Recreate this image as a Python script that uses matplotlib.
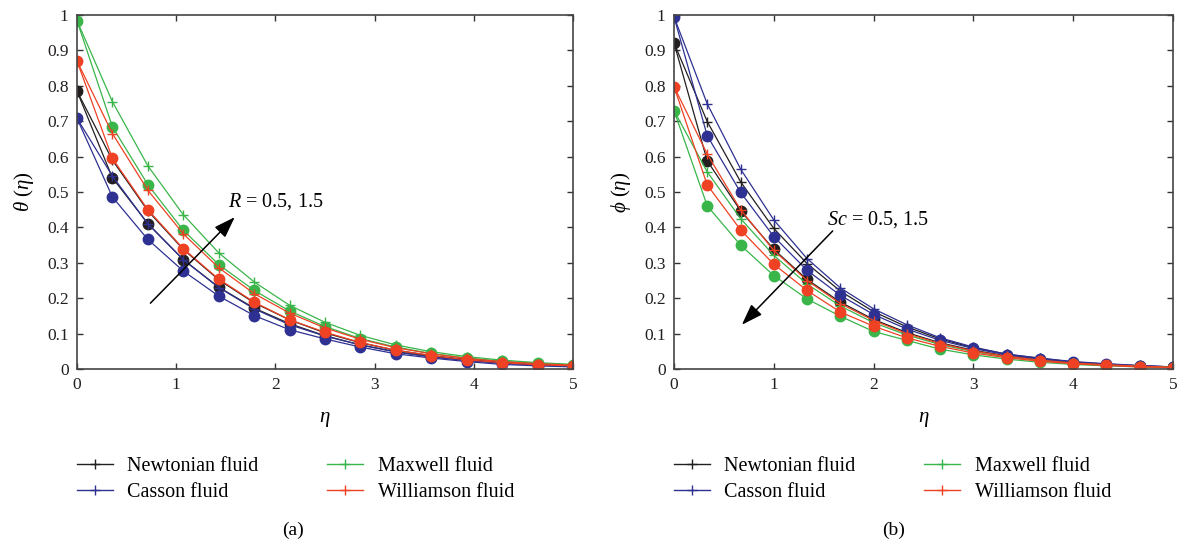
import matplotlib
matplotlib.use("Agg")
import matplotlib.pyplot as plt
from matplotlib.lines import Line2D

# ---------------- data ----------------
eta_a = [0, 0.357, 0.714, 1.071, 1.429, 1.786, 2.143, 2.5, 2.857, 3.214, 3.571, 3.929, 4.286, 4.643, 5.0]
# theta(eta), R = 0.5 (dots) and R = 1.5 (plus)
newt_a_lo = [0.785, 0.540, 0.411, 0.309, 0.231, 0.172, 0.128, 0.094, 0.068, 0.049, 0.035, 0.025, 0.017, 0.012, 0.008]
newt_a_hi = [0.785, 0.590, 0.447, 0.338, 0.252, 0.187, 0.139, 0.102, 0.074, 0.053, 0.038, 0.027, 0.019, 0.013, 0.009]
cass_a_lo = [0.708, 0.486, 0.366, 0.277, 0.206, 0.151, 0.111, 0.085, 0.062, 0.043, 0.031, 0.021, 0.013, 0.009, 0.006]
cass_a_hi = [0.708, 0.545, 0.410, 0.309, 0.230, 0.170, 0.125, 0.093, 0.068, 0.048, 0.034, 0.024, 0.016, 0.011, 0.007]
maxw_a_lo = [0.984, 0.684, 0.521, 0.392, 0.295, 0.222, 0.164, 0.120, 0.086, 0.062, 0.044, 0.031, 0.022, 0.016, 0.012]
maxw_a_hi = [0.984, 0.755, 0.574, 0.436, 0.328, 0.246, 0.180, 0.132, 0.095, 0.068, 0.049, 0.035, 0.025, 0.018, 0.013]
will_a_lo = [0.870, 0.595, 0.450, 0.340, 0.254, 0.189, 0.139, 0.104, 0.075, 0.053, 0.038, 0.026, 0.018, 0.012, 0.009]
will_a_hi = [0.870, 0.665, 0.505, 0.382, 0.286, 0.213, 0.158, 0.116, 0.084, 0.060, 0.043, 0.030, 0.021, 0.015, 0.011]

eta_b = [0, 0.333, 0.667, 1.0, 1.333, 1.667, 2.0, 2.333, 2.667, 3.0, 3.333, 3.667, 4.0, 4.333, 4.667, 5.0]
# phi(eta), Sc = 0.5 (plus) and Sc = 1.5 (dots)
newt_b_lo = [0.921, 0.588, 0.447, 0.338, 0.253, 0.189, 0.140, 0.103, 0.074, 0.053, 0.037, 0.026, 0.018, 0.012, 0.008, 0.005]
newt_b_hi = [0.921, 0.699, 0.529, 0.397, 0.298, 0.220, 0.162, 0.119, 0.085, 0.060, 0.042, 0.030, 0.020, 0.014, 0.009, 0.006]
cass_b_lo = [0.995, 0.659, 0.499, 0.374, 0.279, 0.208, 0.154, 0.113, 0.081, 0.058, 0.040, 0.028, 0.019, 0.013, 0.009, 0.006]
cass_b_hi = [0.995, 0.749, 0.565, 0.421, 0.312, 0.229, 0.170, 0.125, 0.088, 0.062, 0.042, 0.031, 0.021, 0.015, 0.010, 0.006]
maxw_b_lo = [0.730, 0.461, 0.350, 0.264, 0.198, 0.149, 0.106, 0.081, 0.056, 0.040, 0.028, 0.019, 0.013, 0.009, 0.006, 0.004]
maxw_b_hi = [0.730, 0.557, 0.425, 0.321, 0.240, 0.178, 0.131, 0.096, 0.069, 0.049, 0.034, 0.024, 0.016, 0.011, 0.007, 0.005]
will_b_lo = [0.798, 0.520, 0.393, 0.296, 0.222, 0.161, 0.121, 0.088, 0.064, 0.045, 0.032, 0.022, 0.015, 0.010, 0.006, 0.004]
will_b_hi = [0.798, 0.607, 0.450, 0.335, 0.250, 0.185, 0.137, 0.100, 0.072, 0.051, 0.036, 0.025, 0.017, 0.012, 0.008, 0.005]

fluids = ["Newtonian fluid", "Casson fluid", "Maxwell fluid", "Williamson fluid"]
colors = ["#231f20", "#2e3192", "#39b54a", "#ef4123"]
yticks = [0, 0.1, 0.2, 0.3, 0.4, 0.5, 0.6, 0.7, 0.8, 0.9, 1]
ytick_labels = ["0", "0.1", "0.2", "0.3", "0.4", "0.5", "0.6", "0.7", "0.8", "0.9", "1"]
xticks = [0, 1, 2, 3, 4, 5]

plt.rcParams['font.family'] = ['Liberation Serif', 'DejaVu Serif']
plt.rcParams['mathtext.fontset'] = 'custom'
plt.rcParams['mathtext.it'] = 'Liberation Serif:italic'
plt.rcParams['mathtext.rm'] = 'Liberation Serif'

fig = plt.figure(figsize=(11.81, 5.43), dpi=100)
axA = fig.add_axes([0.0652, 0.3204, 0.4200, 0.6520])
axB = fig.add_axes([0.5707, 0.3204, 0.4225, 0.6520])

series_a = [(newt_a_lo, newt_a_hi), (cass_a_lo, cass_a_hi), (maxw_a_lo, maxw_a_hi), (will_a_lo, will_a_hi)]
series_b = [(newt_b_lo, newt_b_hi), (cass_b_lo, cass_b_hi), (maxw_b_lo, maxw_b_hi), (will_b_lo, will_b_hi)]

def draw(ax, x, series):
    for (lo, hi), c in zip(series, colors):
        ax.plot(x, hi, color=c, lw=0.9, marker='+', ms=7, mew=1.0)
        ax.plot(x, lo, color=c, lw=0.9, marker='o', ms=7.5, mec=c, mfc=c)
    ax.set_xlim(0, 5)
    ax.set_ylim(0, 1)
    ax.set_xticks(xticks)
    ax.set_xticklabels([str(t) for t in xticks])
    ax.set_yticks(yticks)
    ax.set_yticklabels(ytick_labels)
    ax.tick_params(direction='in', length=4, width=1, top=True, right=True,
                   labelsize=12.5, colors='#333333', labelcolor='#231f20', pad=6)
    for s in ax.spines.values():
        s.set_color('#444444')
        s.set_linewidth(1.2)
    ax.set_xlabel(r'$\eta$', fontsize=15, labelpad=12)
    handles = [Line2D([], [], color=c, lw=1.0, marker='+', ms=7, mew=1.0) for c in colors]
    ax.legend(handles, fluids, ncol=2, frameon=False, loc='upper left',
              bbox_to_anchor=(-0.02, -0.22), fontsize=14.5, handlelength=1.8,
              handletextpad=0.7, columnspacing=3.4, labelspacing=0.35, borderpad=0)

draw(axA, eta_a, series_a)
draw(axB, eta_b, series_b)

axA.set_ylabel(r'$\theta$ $(\eta)$', fontsize=15, labelpad=8)
axB.set_ylabel(r'$\phi$ $(\eta)$', fontsize=15, labelpad=8)

arrow_kw = dict(arrowstyle='-|>,head_length=1.3,head_width=0.45', color='black', lw=1.1,
                shrinkA=0, shrinkB=0)
axA.annotate('', xy=(1.59, 0.429), xytext=(0.74, 0.186), arrowprops=arrow_kw)
axA.text(1.52, 0.472, r'$R$ = 0.5, 1.5', fontsize=14.5, va='center', ha='left')
axB.annotate('', xy=(0.68, 0.125), xytext=(1.59, 0.390), arrowprops=arrow_kw)
axB.text(1.53, 0.423, r'$Sc$ = 0.5, 1.5', fontsize=14.5, va='center', ha='left')

fig.text(0.2481, 0.024, '(a)', fontsize=14, ha='center', va='center')
fig.text(0.7562, 0.024, '(b)', fontsize=14, ha='center', va='center')

fig.savefig('out.png', dpi=100)
